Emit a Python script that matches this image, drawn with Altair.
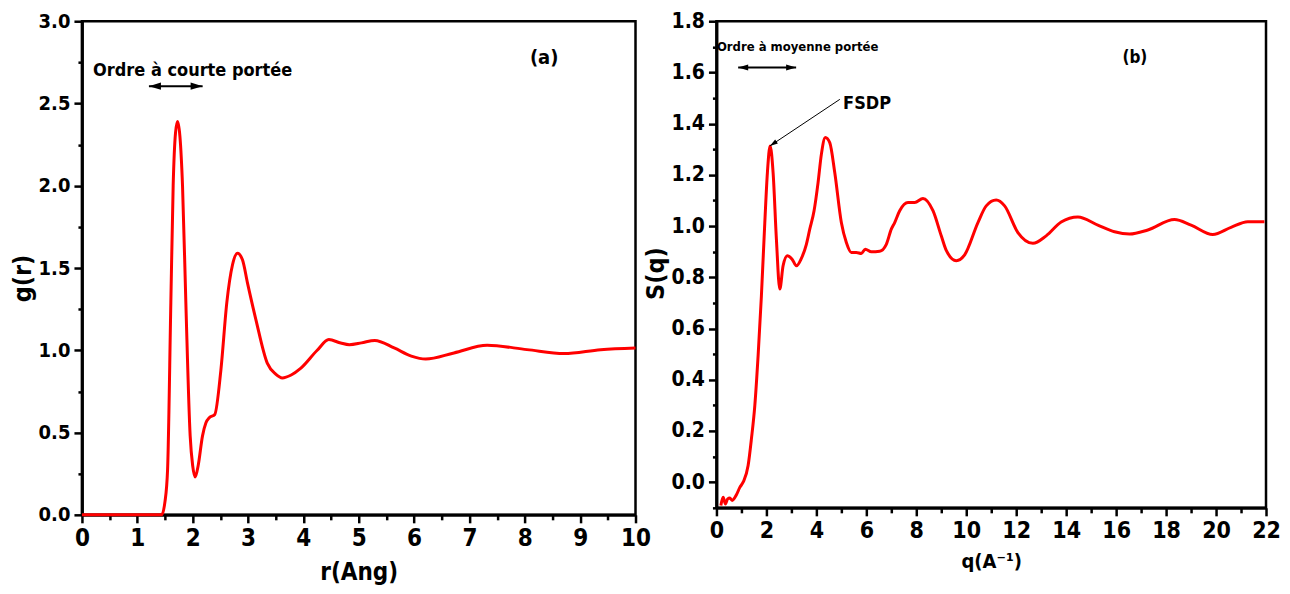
import altair as alt
import pandas as pd

FONT = "Liberation Sans Narrow, DejaVu Sans Condensed, Arial Narrow, sans-serif"
RED = "#ff0000"

# ---------------- Panel (a): g(r) ----------------
r_vals = [0.0, 1.0, 1.40, 1.44, 1.50, 1.547, 1.606, 1.648, 1.69, 1.727, 1.77, 1.817,
          1.877, 1.955, 2.0, 2.046, 2.10, 2.178, 2.24, 2.30, 2.40, 2.51, 2.617, 2.72,
          2.81, 2.90, 2.99, 3.14, 3.35, 3.50, 3.62, 3.78, 3.95, 4.25, 4.46, 4.675,
          4.83, 5.05, 5.29, 5.64, 5.95, 6.21, 6.72, 7.32, 8.04, 8.71, 9.37, 10.0]
g_vals = [0.0, 0.0, 0.0, 0.0, 0.08, 0.275, 1.29, 2.0, 2.32, 2.39, 2.3, 2.0,
          1.29, 0.48, 0.30, 0.23, 0.30, 0.48, 0.56, 0.59, 0.61, 0.88, 1.29, 1.52,
          1.59, 1.55, 1.41, 1.19, 0.92, 0.855, 0.832, 0.85, 0.89, 1.0, 1.065, 1.044,
          1.034, 1.045, 1.06, 1.014, 0.965, 0.947, 0.984, 1.03, 1.004, 0.98, 1.004, 1.014]

# ---------------- Panel (b): S(q) ----------------
q_vals = [0.176, 0.268, 0.36, 0.45, 0.536, 0.628, 0.8, 0.936, 1.068, 1.268, 1.4, 1.536,
          1.668, 1.8, 1.936, 2.04, 2.148, 2.268, 2.4, 2.536, 2.668, 2.84, 3.028, 3.2,
          3.4, 3.6, 3.736, 3.908, 4.068, 4.2, 4.36, 4.536, 4.736, 5.0, 5.2, 5.4, 5.6,
          5.8, 5.96, 6.2, 6.536, 6.8, 7.0, 7.136, 7.336, 7.668, 7.936, 8.268, 8.668,
          9.0, 9.2, 9.6, 9.936, 10.468, 10.8, 11.2, 11.536, 12.068, 12.668, 13.2, 13.8,
          14.468, 15.268, 15.936, 16.536, 17.268, 18.336, 19.0, 19.868, 20.6, 21.268, 21.936]
s_vals = [-0.091, -0.059, -0.085, -0.065, -0.062, -0.071, -0.049, -0.02, 0.0, 0.065, 0.169, 0.299,
          0.494, 0.728, 1.014, 1.209, 1.313, 1.209, 0.949, 0.754, 0.845, 0.884, 0.871, 0.845,
          0.874, 0.929, 0.988, 1.06, 1.17, 1.28, 1.346, 1.326, 1.209, 1.014, 0.936, 0.897, 0.897,
          0.893, 0.91, 0.90, 0.902, 0.929, 0.988, 1.014, 1.06, 1.092, 1.092, 1.108, 1.06,
          0.962, 0.905, 0.865, 0.888, 1.014, 1.079, 1.102, 1.079, 0.975, 0.933, 0.962, 1.016,
          1.036, 1.004, 0.978, 0.969, 0.985, 1.026, 1.004, 0.967, 0.995, 1.017, 1.017]

# tick values
a_xticks = [i * 0.5 for i in range(21)]
a_yticks = [i * 0.25 for i in range(13)]
b_xticks = list(range(23))
b_yticks = [-0.1, 0.0, 0.1, 0.2, 0.3, 0.4, 0.5, 0.6, 0.7, 0.8, 0.9, 1.0, 1.1, 1.2,
            1.3, 1.4, 1.5, 1.6, 1.7, 1.8]

# annotations (data coordinates)
a_texts = {"x": [2.0, 8.35], "y": [2.70, 2.775], "t": ["Ordre à courte portée", "(a)"],
           "s": [18, 20]}
a_arrow = {"x": [1.21], "x2": [2.18], "y": [2.605]}
b_texts = {"x": [3.25, 6.03, 16.75], "y": [1.70, 1.475, 1.655],
           "t": ["Ordre à moyenne portée", "FSDP", "(b)"], "s": [13, 18, 17]}
b_arrow = {"x": [0.87], "x2": [3.19], "y": [1.619]}
fsdp_arrow = {"x": [4.94], "y": [1.495], "x2": [2.14], "y2": [1.313]}

ARROW = "M0,0L0.6,2L-0.6,2Z"


def make_axis(values, major, fmt, title, label_size, title_size, tmaj, tmin, lpad, **kw):
    return alt.Axis(
        values=values, format=fmt, title=title,
        labelExpr=f"({major}) ? datum.label : ''",
        tickSize={"condition": {"test": major, "value": tmaj}, "value": tmin},
        tickColor="black", tickWidth=2.5, domainColor="black", domainWidth=3,
        labelFont=FONT, labelFontWeight="bold", labelFontSize=label_size, labelColor="black",
        labelPadding=lpad, labelFlush=False, labelOverlap=False, labelBound=False,
        titleFont=FONT, titleFontWeight="bold", titleFontSize=title_size, titleColor="black",
        grid=False, **kw)


def panel(xv, yv, xdom, ydom, xaxis, yaxis, texts, harrow, head, w, h, extra_arrow=None):
    xs = alt.Scale(domain=xdom, nice=False, zero=False)
    ys = alt.Scale(domain=ydom, nice=False, zero=False)
    df = pd.DataFrame({"x": xv, "y": yv})
    line = alt.Chart(df).mark_line(color=RED, strokeWidth=3, interpolate="monotone").encode(
        x=alt.X("x:Q", scale=xs, axis=xaxis), y=alt.Y("y:Q", scale=ys, axis=yaxis))
    tdf = pd.DataFrame(texts)
    txt = alt.Chart(tdf).mark_text(font=FONT, fontWeight="bold", color="black",
                                   align="center", baseline="middle").encode(
        x=alt.X("x:Q", scale=xs, axis=xaxis), y=alt.Y("y:Q", scale=ys, axis=yaxis),
        text="t:N", size=alt.Size("s:Q", scale=None, legend=None))
    adf = pd.DataFrame(harrow)
    rule = alt.Chart(adf).mark_rule(color="black", strokeWidth=2).encode(
        x=alt.X("x:Q", scale=xs, axis=xaxis), x2="x2:Q", y=alt.Y("y:Q", scale=ys, axis=yaxis))
    hl = alt.Chart(adf).mark_point(shape=ARROW, filled=True, color="black", opacity=1,
                                   size=head, angle=270, strokeWidth=0).encode(
        x=alt.X("x:Q", scale=xs, axis=xaxis), y=alt.Y("y:Q", scale=ys, axis=yaxis))
    hr = alt.Chart(adf).mark_point(shape=ARROW, filled=True, color="black", opacity=1,
                                   size=head, angle=90, strokeWidth=0).encode(
        x=alt.X("x2:Q", scale=xs, axis=xaxis), y=alt.Y("y:Q", scale=ys, axis=yaxis))
    layers = [line, rule, hl, hr, txt]
    if extra_arrow is not None:
        edf = pd.DataFrame(extra_arrow)
        er = alt.Chart(edf).mark_rule(color="black", strokeWidth=1).encode(
            x=alt.X("x:Q", scale=xs, axis=xaxis), y=alt.Y("y:Q", scale=ys, axis=yaxis),
            x2="x2:Q", y2="y2:Q")
        eh = alt.Chart(edf).mark_point(shape=ARROW, filled=True, color="black", opacity=1,
                                       size=64, angle=236, strokeWidth=0).encode(
            x=alt.X("x2:Q", scale=xs, axis=xaxis), y=alt.Y("y2:Q", scale=ys, axis=yaxis))
        layers += [er, eh]
    return alt.layer(*layers).properties(width=w, height=h)


ax_a_x = make_axis(a_xticks, "datum.value % 1 == 0", ".0f", "r(Ang)", 24, 24, 8, 5, 4,
                   titleY=58, titleBaseline="middle")
ax_a_y = make_axis(a_yticks, "datum.value % 0.5 == 0", ".1f", "g(r)", 20, 25, 8, 4, 4,
                   titleX=-59, titleY=257, titleBaseline="middle")
ax_b_x = make_axis(b_xticks, "datum.value % 2 == 0", ".0f", "q(A⁻¹)", 23, 20, 8, 5, 4,
                   titleY=54, titleBaseline="middle")
ax_b_y = make_axis(b_yticks, "round(datum.value * 10) % 2 == 0", ".1f", "S(q)", 21, 25, 8, 4, 4,
                   titleX=-61, titleY=252, titleBaseline="middle")

pa = panel(r_vals, g_vals, [0, 10], [0, 3], ax_a_x, ax_a_y, a_texts, a_arrow, 144, 554, 494)
pb = panel(q_vals, s_vals, [0, 22], [-0.1, 1.8], ax_b_x, ax_b_y, b_texts, b_arrow, 100, 550, 487,
           extra_arrow=fsdp_arrow)

chart = alt.hconcat(pa, pb, spacing=-11).resolve_scale(x="independent", y="independent").properties(
    padding={"left": 1, "top": 0, "right": 0, "bottom": 0}, background="white"
).configure_view(stroke="black", strokeWidth=2.5)

chart.save("out.html", embed_options={"renderer": "svg", "actions": False})
